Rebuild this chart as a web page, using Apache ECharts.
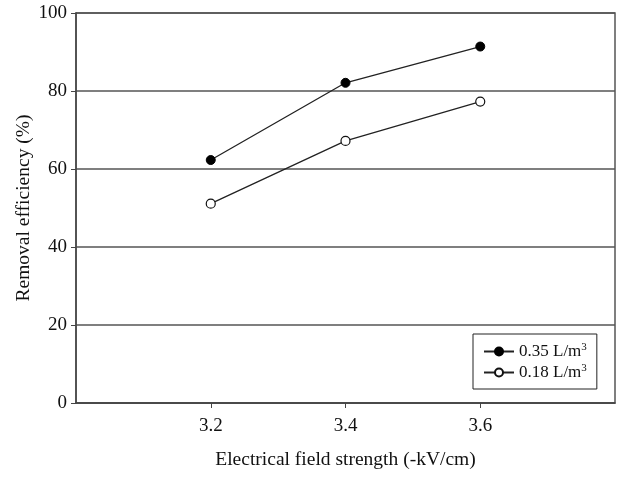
<!DOCTYPE html>
<html>
<head>
<meta charset="utf-8">
<script src="https://cdn.jsdelivr.net/npm/echarts@6/dist/echarts.min.js"></script>
<style>
  html,body{margin:0;padding:0;background:#fff;}
  #main{width:617px;height:477px;}
</style>
</head>
<body>
<div id="main"></div>
<script>
// field strength (-kV/cm)
var fieldStrength=[3.2,3.4,3.6];
// removal efficiency (%)
var eff035=[62.3,82.1,91.4];
var eff018=[51.1,67.2,77.3];
var seriesNames=['0.35 L/m3','0.18 L/m3'];
var xTicks=[3.2,3.4,3.6];

function pairs(xs,ys){
    var out=[];
    for(var i=0;i<xs.length;i++){
        out.push([xs[i],ys[i]]);
    }
    return out;
}

var font='"Liberation Serif", "DejaVu Serif", serif';
var myChart=echarts.init(document.getElementById('main'));

var option={
    animation:false,
    textStyle:{fontFamily:font,color:'#111'},
    grid:{
        left:76,right:2,top:13,bottom:74,
        show:true,borderColor:'#555',borderWidth:1.5
    },
    legend:{
        orient:'vertical',
        left:473,top:334,
        padding:[8,10,8,10],
        itemGap:3,
        itemWidth:30,
        itemHeight:10,
        borderColor:'#222',
        borderWidth:1,
        backgroundColor:'#fff',
        data:seriesNames,
        formatter:function(name){
            return name.replace('m3','m{sup|3}');
        },
        textStyle:{
            fontFamily:font,fontSize:17,color:'#111',
            rich:{
                sup:{fontFamily:font,fontSize:11,verticalAlign:'top',padding:[0,0,8,0],color:'#111'}
            }
        }
    },
    xAxis:{
        type:'value',
        min:3.0,max:3.8,interval:0.2,
        name:'Electrical field strength (-kV/cm)',
        nameLocation:'middle',
        nameGap:47,
        nameMoveOverlap:false,
        nameTextStyle:{fontFamily:font,fontSize:19.5,color:'#111'},
        axisLine:{show:true,lineStyle:{color:'#444',width:1.5}},
        axisTick:{show:true,length:5,customValues:xTicks,lineStyle:{color:'#444'}},
        axisLabel:{
            customValues:xTicks,
            margin:14,fontFamily:font,fontSize:19,color:'#111',
            formatter:function(v){return v.toFixed(1);}
        },
        splitLine:{show:false}
    },
    yAxis:{
        type:'value',
        min:0,max:100,interval:20,
        name:'Removal efficiency (%)',
        nameLocation:'middle',
        nameGap:42,
        nameMoveOverlap:false,
        nameTextStyle:{fontFamily:font,fontSize:19.5,color:'#111'},
        axisLine:{show:true,lineStyle:{color:'#444',width:1.5}},
        axisTick:{show:true,length:5,lineStyle:{color:'#444'}},
        axisLabel:{margin:9,fontFamily:font,fontSize:19,color:'#111'},
        splitLine:{show:true,lineStyle:{color:'#555',width:1.5}}
    },
    series:[{
        name:seriesNames[0],
        type:'line',
        data:pairs(fieldStrength,eff035),
        symbol:'circle',
        symbolSize:9,
        lineStyle:{color:'#222',width:1.3},
        itemStyle:{color:'#000',borderColor:'#000',borderWidth:1}
    },{
        name:seriesNames[1],
        type:'line',
        data:pairs(fieldStrength,eff018),
        symbol:'circle',
        symbolSize:9,
        lineStyle:{color:'#222',width:1.3},
        itemStyle:{color:'#fff',borderColor:'#111',borderWidth:1.2}
    }]
};

myChart.setOption(option);
</script>
</body>
</html>
